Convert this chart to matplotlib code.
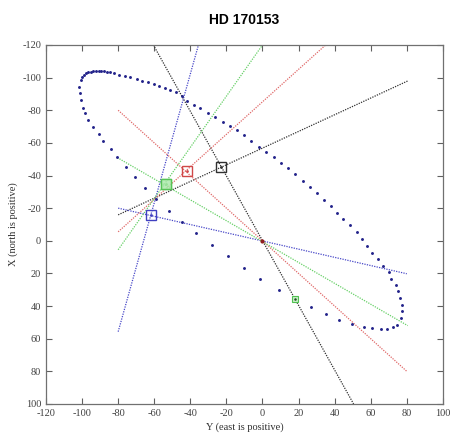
import numpy as np
import matplotlib
matplotlib.use("Agg")
import matplotlib.pyplot as plt

plt.rcParams["axes.unicode_minus"] = False

# orbit points (Y east, X north)
orbit_y = [-52.1, -58.9, -65.0, -70.6, -75.6, -80.7, -84.1, -88.2, -90.9, -93.7, -96.8, -98.3, -99.6,
           -100.6, -101.1, -101.5, -100.6, -99.8, -98.9, -97.8, -96.5, -95.2, -93.7, -92.2, -90.7,
           -89.3, -87.8, -86.3, -84.8, -82.1, -79.3, -76.1, -73.3, -69.6, -66.8, -63.7, -60.4, -57.1,
           -53.9, -51.1, -47.8, -44.6, -41.7, -38.2, -34.4, -30.4, -26.1, -22.1, -18.2, -14.4, -10.4,
           -6.3, -1.7, 2.2, 6.3, 10.4, 14.1, 18.3, 22.6, 26.3, 30.0, 34.1, 37.8, 41.5, 44.8, 48.5,
           52.2, 55.4, 58.2, 60.9, 63.9, 66.7, 70.0, 71.5, 73.9, 75.2, 76.3, 77.1, 77.1, 76.7, 74.8,
           72.1, 69.3, 65.6, 60.9, 56.3, 49.8, 42.4, 35.0, 26.7, 17.8, 9.1, -1.1, -10.4, -19.3,
           -27.9, -36.7, -44.6]
orbit_x = [-18.5, -25.7, -32.2, -39.0, -45.1, -51.2, -56.1, -61.2, -65.4, -69.9, -74.0, -78.1, -81.2,
           -86.2, -90.3, -94.4, -98.5, -100.5, -101.7, -102.6, -103.2, -103.5, -103.8, -104.0, -104.0,
           -104.0, -103.8, -103.5, -103.2, -102.6, -101.7, -100.9, -100.1, -99.1, -98.0, -97.1, -96.0,
           -94.8, -93.4, -92.4, -90.9, -88.7, -85.6, -83.2, -81.2, -78.5, -76.0, -73.0, -70.5, -67.9,
           -64.8, -61.3, -57.7, -54.4, -51.2, -47.9, -44.5, -40.7, -36.9, -33.2, -29.2, -25.1, -21.4,
           -17.3, -13.3, -9.6, -5.5, -1.0, 3.1, 7.2, 11.2, 15.3, 19.0, 23.4, 26.9, 31.0, 35.0, 39.1,
           43.2, 47.1, 51.4, 53.0, 53.8, 53.8, 53.6, 52.8, 50.9, 48.3, 44.6, 40.6, 35.5, 30.0, 23.2,
           16.7, 9.2, 2.4, -4.7, -11.8]

# dotted lines: (y0, x0) -> (y1, x1)
line_colors = ["#303030", "#303030", "#4848c8", "#4848c8", "#e06868", "#e06868", "#66d066", "#66d066"]
line_y0 = [-60.5, -80.0, -80.0, -80.0, -80.0, -80.0, -80.5, -80.0]
line_x0 = [-120.0, -15.9, 55.7, -20.0, -80.0, -5.5, -51.0, 5.5]
line_y1 = [50.5, 80.6, -35.5, 80.0, 80.0, 35.0, 80.5, 0.0]
line_x1 = [100.0, -98.0, -120.0, 20.2, 80.0, -120.0, 52.0, -120.0]

# square markers at line crossings
mark_y = [-22.9, -41.8, -53.5, -61.8]
mark_x = [-45.3, -42.8, -34.9, -15.9]
mark_colors = ["#303030", "#d04848", "#50c050", "#4040c0"]

fig = plt.figure(figsize=(4.62, 4.41), dpi=100)
ax = fig.add_axes([0.0996, 0.084, 0.859, 0.814])

for c, a, b, cc, d in zip(line_colors, line_y0, line_x0, line_y1, line_x1):
    ax.plot([a, cc], [b, d], color=c, linestyle=(0, (1, 1)), lw=0.9)

ax.plot(orbit_y, orbit_x, linestyle="none", marker="o", ms=2.1, color="#22228a", mew=0)

for y, x, c in zip(mark_y, mark_x, mark_colors):
    ax.plot(y, x, marker="s", ms=7, mfc="none", mec=c, mew=1.0)
    ax.plot(y, x, marker="o", ms=2, color=c, mew=0)
ax.plot(-53.5, -34.9, marker="s", ms=7, mfc="#a8e8a8", mec="#50c050", mew=1.0, alpha=0.8)

# current position and star
ax.plot(17.8, 35.5, marker="s", ms=5, mfc="#c8f0c8", mec="#50c050", mew=0.8)
ax.plot(17.8, 35.5, marker="o", ms=1.8, color="#205020", mew=0)
ax.plot(0, 0, marker="o", ms=3, color="#902020", mew=0)

ax.set_xlim(-120, 100)
ax.set_ylim(100, -120)
ax.set_xticks(np.arange(-120, 101, 20))
ax.set_yticks(np.arange(-120, 101, 20))
ax.tick_params(direction="in", top=True, right=True, length=4, width=0.8,
               labelsize=7.5, labelcolor="#404040", color="#606060")
for lab in ax.get_xticklabels() + ax.get_yticklabels():
    lab.set_fontfamily("Liberation Serif")
for s in ax.spines.values():
    s.set_color("#707070")
    s.set_linewidth(0.9)

ax.set_xlabel("Y (east is positive)", fontfamily="Liberation Serif", fontsize=7.5,
              color="#303030", labelpad=3)
ax.set_ylabel("X (north is positive)", fontfamily="Liberation Serif", fontsize=7.5,
              color="#303030", labelpad=3)
ax.set_title("HD 170153", fontfamily="Liberation Sans", fontweight="bold", fontsize=10, pad=15)

fig.savefig("out.png", dpi=100)
